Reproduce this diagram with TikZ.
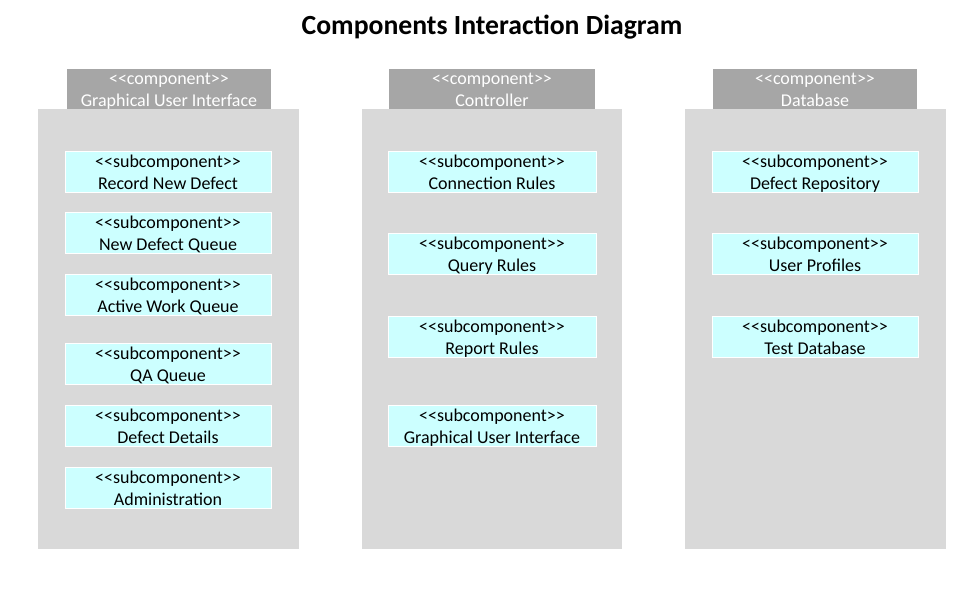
\documentclass[tikz,border=0pt]{standalone}
\usepackage{fontspec}
\setmainfont{Carlito}
\definecolor{headgray}{HTML}{A6A6A6}
\definecolor{bodygray}{HTML}{D9D9D9}
\definecolor{subcyan}{HTML}{CCFFFF}
\tikzset{
  comphead/.style={fill=headgray, text=white, minimum height=40pt, inner sep=0pt,
    align=center, font=\fontsize{18}{22}\selectfont},
  compbody/.style={fill=bodygray, minimum height=440pt, inner sep=0pt},
  subcomp/.style={fill=subcyan, draw=white, line width=1pt, minimum width=206pt,
    minimum height=41pt, inner sep=0pt, align=center, font=\fontsize{18}{22}\selectfont}
}
% two-line stereotype label, fixed height so all boxes line up
\newcommand{\stereo}[2]{\rule{0pt}{15.5pt}{<}{<}#1{>}{>}\\\smash{#2}\rule[-2.5pt]{0pt}{2.5pt}}
\begin{document}
\begin{tikzpicture}[x=1pt,y=-1pt]
    \useasboundingbox (0,0) rectangle (960,600);
    \node[font=\bfseries\fontsize{27.7}{30}\selectfont] (title) at (492,27) {Components Interaction Diagram};
    % component bodies
    \node[compbody, minimum width=261pt] (guibody) at (168.5,329) {};
    \node[compbody, minimum width=260pt] (ctrlbody) at (492,329) {};
    \node[compbody, minimum width=261pt] (dbbody) at (815.5,329) {};
    % component headers
    \node[comphead, minimum width=204pt] (guihead) at (169,89) {\stereo{component}{Graphical User Interface}};
    \node[comphead, minimum width=206pt] (ctrlhead) at (492,89) {\stereo{component}{Controller}};
    \node[comphead, minimum width=204pt] (dbhead) at (815,89) {\stereo{component}{Database}};
    % subcomponents
    \foreach \y/\name [count=\i] in {171.5/Record New Defect, 233/New Defect Queue, 295/Active Work Queue, 364/QA Queue, 426/Defect Details, 488/Administration}
        \node[subcomp] (gui\i) at (168,\y) {\stereo{subcomponent}{\name}};
    \foreach \y/\name [count=\i] in {171.5/Connection Rules, 253.5/Query Rules, 336.5/Report Rules, 426/Graphical User Interface}
        \node[subcomp, minimum width=208pt] (ctrl\i) at (492,\y) {\stereo{subcomponent}{\name}};
    \foreach \y/\name [count=\i] in {171.5/Defect Repository, 253.5/User Profiles, 336.5/Test Database}
        \node[subcomp] (db\i) at (815,\y) {\stereo{subcomponent}{\name}};
\end{tikzpicture}
\end{document}
